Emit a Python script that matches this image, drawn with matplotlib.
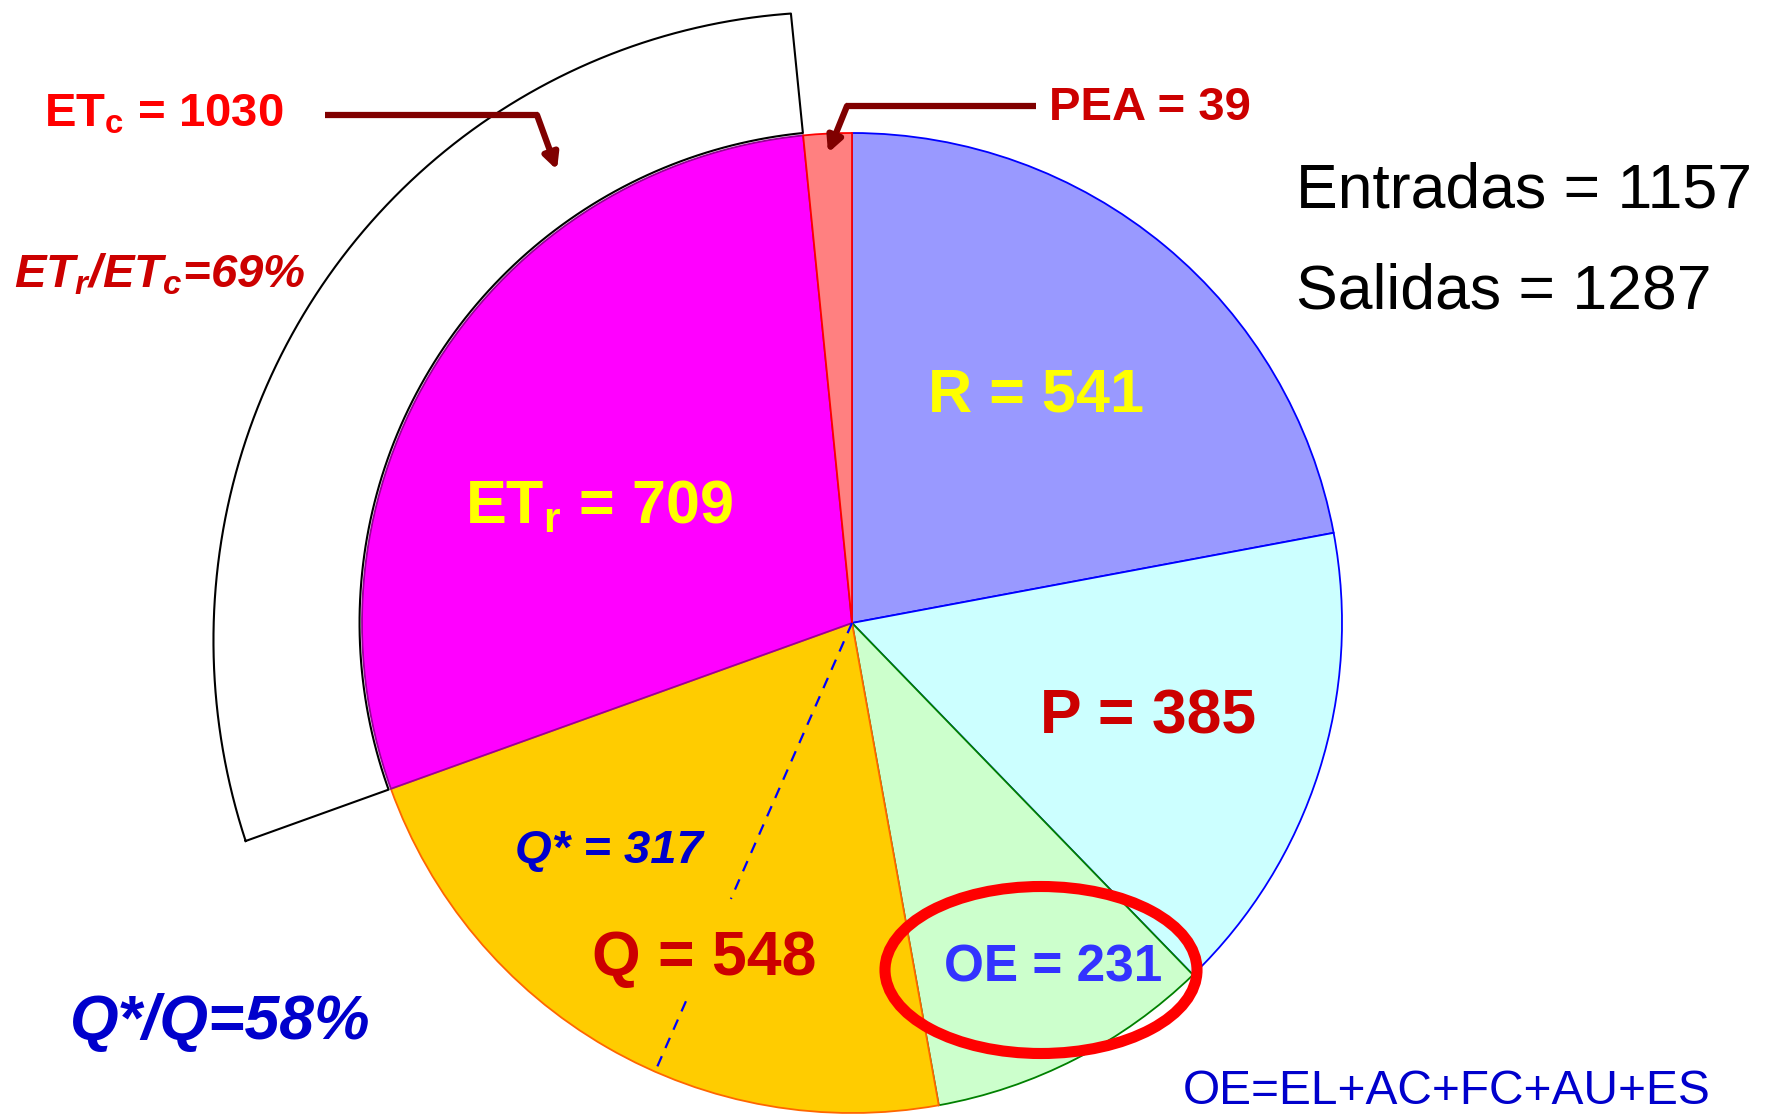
import matplotlib
matplotlib.use('Agg')
import numpy as np
import matplotlib.pyplot as plt
from matplotlib.patches import Ellipse

# balance terms (mm)
labels = ['R', 'P', 'OE', 'Q', 'ETr', 'PEA']
values = [541, 385, 231, 548, 709, 39]
q_star = 317
etc_total = 1030
entradas = 1157
salidas = 1287

colors = ['#9999FF', '#CCFFFF', '#CCFFCC', '#FFCC00', '#FF00FF', '#FF8080']
edges = ['#0000FF', '#0000FF', '#008000', '#FF6600', '#990099', '#FF0000']

plt.rcParams['font.family'] = ['Liberation Sans', 'DejaVu Sans']
plt.rcParams['mathtext.fontset'] = 'custom'
plt.rcParams['mathtext.rm'] = 'Liberation Sans'
plt.rcParams['mathtext.bf'] = 'Liberation Sans:bold'
plt.rcParams['mathtext.it'] = 'Liberation Sans:italic:bold'

W, H = 1775, 1114
fig = plt.figure(figsize=(W / 100, H / 100), dpi=100)
ax = fig.add_axes([0, 0, 1, 1])

cx, cy, R = 852, 491, 490
wedges, _ = ax.pie(values, colors=colors, startangle=90, counterclock=False,
                   radius=R, center=(cx, cy),
                   wedgeprops=dict(linewidth=1.3))
for w, ec in zip(wedges, edges):
    w.set_edgecolor(ec)

total = sum(values)
# angles of the slice boundaries
bounds = 90 - 360 * np.cumsum([0] + values) / total

# hand-drawn bracket round ETr (outer edge a bit wider at the bottom)
et_i = labels.index('ETr')
bot_a, top_a = bounds[et_i] + 360, bounds[et_i + 1] + 360
t = np.linspace(bot_a, top_a, 200)
r_out = R * np.linspace(1.315, 1.25, 200)
r_in = R * 1.005
xo = cx + r_out * np.cos(np.deg2rad(t))
yo = cy + r_out * np.sin(np.deg2rad(t))
xi = cx + r_in * np.cos(np.deg2rad(t[::-1]))
yi = cy + r_in * np.sin(np.deg2rad(t[::-1]))
ax.plot(np.r_[xo, xi, xo[0]], np.r_[yo, yi, yo[0]], color='black', lw=1.5)

# Q* dashed divider inside Q
q_i = labels.index('Q')
ang = np.deg2rad(bounds[q_i + 1] + 360 * q_star / total)
for r0, r1 in [(0, 0.615), (0.843, 1.0)]:
    ax.plot([cx + r0 * R * np.cos(ang), cx + r1 * R * np.cos(ang)],
            [cy + r0 * R * np.sin(ang), cy + r1 * R * np.sin(ang)],
            ls=(0, (5, 4)), color='#0000FF', lw=1.6)

# slice labels
bold = dict(fontweight='bold', ha='center', va='center')
ax.text(1036, H - 396, f'R = {values[0]}', color='#FFFF00', fontsize=44, **bold)
ax.text(1148, H - 717, f'P = {values[1]}', color='#CC0000', fontsize=45, **bold)
ax.text(1053, H - 968, f'OE = {values[2]}', color='#3333FF', fontsize=37, **bold)
ax.text(704, H - 958, f'Q = {values[3]}', color='#CC0000', fontsize=45, **bold)
ax.text(599, H - 508, f'ET$_\\mathbf{{r}}$ = {values[4]}', color='#FFFF00',
        fontsize=44, **bold)
ax.text(609, H - 851, f'Q* = {q_star}', color='#0000CC', fontsize=34,
        style='italic', **bold)

ax.add_patch(Ellipse((1041, H - 970), 312, 167, fill=False, ec='#FF0000', lw=8))

# callouts
ax.text(164, H - 114, f'ET$_\\mathbf{{c}}$ = {etc_total}', color='#FF0000',
        fontsize=34, **bold)
ax.plot([325, 538], [H - 115, H - 115], color='#800000', lw=4.5,
        solid_capstyle='butt')
ax.annotate('', xy=(557, H - 170), xytext=(537, H - 115),
            arrowprops=dict(arrowstyle='-|>,head_length=0.9,head_width=0.45',
                            color='#800000', lw=4.5, shrinkA=0, shrinkB=0))
ax.text(1150, H - 108, f'PEA = {values[5]}', color='#CC0000', fontsize=34, **bold)
ax.plot([1036, 846], [H - 106, H - 106], color='#800000', lw=4.5,
        solid_capstyle='butt')
ax.annotate('', xy=(828, H - 153), xytext=(847, H - 106),
            arrowprops=dict(arrowstyle='-|>,head_length=0.9,head_width=0.45',
                            color='#800000', lw=4.5, shrinkA=0, shrinkB=0))

ax.text(160, H - 275, 'ET$_r$/ET$_\\mathit{c}$=69%', color='#CC0000', fontsize=34,
        style='italic', **bold)
ax.text(220, H - 1022, 'Q*/Q=58%', color='#0000CC', fontsize=45,
        style='italic', **bold)

ax.text(1296, H - 191, f'Entradas = {entradas}', color='black', fontsize=45,
        ha='left', va='center')
ax.text(1296, H - 292, f'Salidas = {salidas}', color='black', fontsize=45,
        ha='left', va='center')
ax.text(1183, H - 1091, 'OE=EL+AC+FC+AU+ES', color='#0000CC', fontsize=34.5,
        ha='left', va='center')

ax.set_xlim(0, W)
ax.set_ylim(0, H)
ax.set_aspect('equal')
ax.axis('off')
fig.savefig('out.png', dpi=100)
